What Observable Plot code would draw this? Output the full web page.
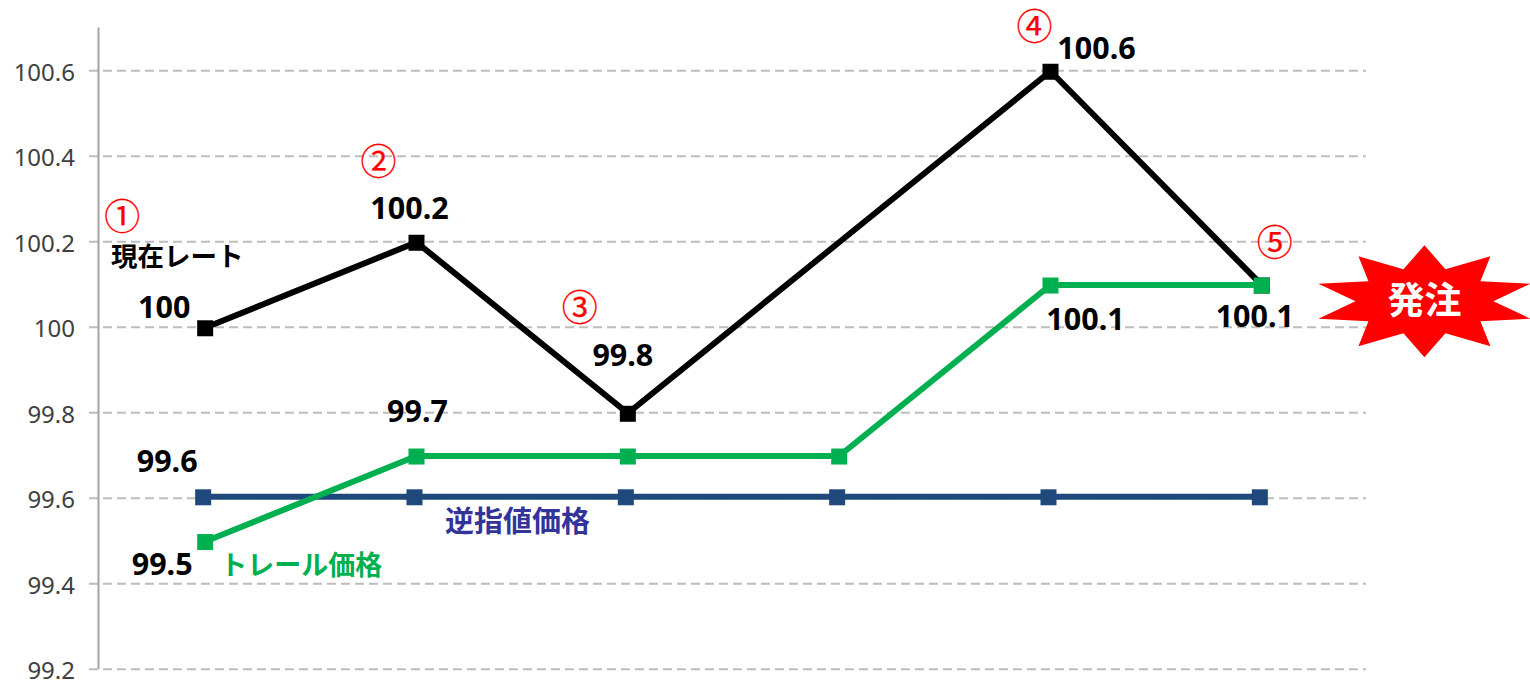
<!DOCTYPE html>
<html><head><meta charset="utf-8">
<script src="https://cdn.jsdelivr.net/npm/d3@7"></script>
<script src="https://cdn.jsdelivr.net/npm/@observablehq/plot@0.6"></script>
<style>html,body{margin:0;padding:0;background:#fff}svg{display:block}</style>
</head><body><div id="chart"></div>
<script>
const steps = [0.5, 1.5, 2.5, 3.5, 4.5, 5.5];
const current = [100, 100.2, 99.8, 100.2, 100.6, 100.1];
const trail = [99.5, 99.7, 99.7, 99.7, 100.1, 100.1];
const stop = [99.6, 99.6, 99.6, 99.6, 99.6, 99.6];
const yTicks = [99.2, 99.4, 99.6, 99.8, 100, 100.2, 100.4, 100.6];

const LATIN = "'Noto Sans', sans-serif";
const CJK = "'Noto Sans CJK JP', sans-serif";

const rows = a => a.map((v, i) => ({x: steps[i], y: v, i}));

function label(text, step, value, dx, dy, opts = {}) {
  return Plot.text([text], {
    x: () => step, y: () => value, text: d => d, dx, dy,
    fontFamily: LATIN, fontSize: 30.5, fontWeight: 700, fill: "#000",
    lineAnchor: "middle", textAnchor: "middle", ...opts
  });
}
const cjk = {fontFamily: CJK};
const circled = {fontFamily: CJK, fontSize: 36, fontWeight: 400, fill: "#ff0000", stroke: "#ff0000", strokeWidth: 0.25};

const STAR = [[0,-56],[21,-32],[66,-45],[56,-20],[106,-17.5],[69,0],[106,17.5],[56,20],[66,45],[21,32],
              [0,56],[-21,32],[-66,45],[-56,20],[-106,17.5],[-69,0],[-106,-17.5],[-56,-20],[-66,-45],[-21,-32]];
const starSymbol = {draw(ctx) {
  STAR.forEach(([a, b], k) => k ? ctx.lineTo(a, b) : ctx.moveTo(a, b));
  ctx.closePath();
}};

const plot = Plot.plot({
  width: 1530, height: 683,
  marginLeft: 98, marginRight: 164, marginTop: 27.5, marginBottom: 14,
  style: {fontFamily: LATIN, background: "#fff", overflow: "visible"},
  x: {domain: [0, 6], axis: null},
  y: {domain: [99.2, 100.7], range: [668.8, 27.5]},
  marks: [
    Plot.ruleY(yTicks, {stroke: "#bdbdbd", strokeWidth: 2, strokeDasharray: "9 5", insetLeft: -9}),
    Plot.ruleX([0], {stroke: "#a3a3a3", strokeWidth: 2}),
    Plot.axisY(yTicks, {anchor: "left", tickSize: 0, tickPadding: 23.5, label: null, tickFormat: d => String(d),
                        fontSize: 24, fill: "#404040", dy: 2.5}),
    Plot.line(rows(stop), {x: "x", y: "y", stroke: "#1F497D", strokeWidth: 6, dx: -1, dy: -1.5}),
    Plot.dot(rows(stop), {x: "x", y: "y", symbol: "square", r: 9.03, fill: "#1F497D", stroke: null, dx: -1, dy: -1}),
    Plot.line(rows(current), {x: "x", y: "y", stroke: "#000", strokeWidth: 6, dx: 1, dy: 0.5}),
    Plot.dot(rows(current).filter(d => d.i !== 3), {x: "x", y: "y", symbol: "square", r: 9.03, fill: "#000", stroke: null, dx: 1, dy: 1}),
    Plot.line(rows(trail), {x: "x", y: "y", stroke: "#00B050", strokeWidth: 6, dx: 1, dy: 0.5}),
    Plot.dot(rows(trail), {x: "x", y: "y", symbol: "square", r: 9.03, fill: "#00B050", stroke: null, dx: 1, dy: 1}),

    label("100", 0.5, 100, -40, -19),
    label("100.2", 1.5, 100.2, -6, -33),
    label("99.8", 2.5, 99.8, -4, -57),
    label("100.6", 4.5, 100.6, 47, -22),
    label("100.1", 4.5, 100.1, 36, 36),
    label("100.1", 5.5, 100.1, -6, 33),
    label("99.7", 1.5, 99.7, 2, -43),
    label("99.6", 0.5, 99.6, -37, -36),
    label("99.5", 0.5, 99.5, -42, 24),

    label("①", 0.5, 100, -82, -109, circled),
    label("②", 1.5, 100.2, -37, -78, circled),
    label("③", 2.5, 99.8, -47, -103, circled),
    label("④", 4.5, 100.6, -15, -42, circled),
    label("⑤", 5.5, 100.1, 14, -40, circled),

    label("現在レート", 0.5, 100, -27, -70, {...cjk, fontSize: 26.5}),
    label("トレール価格", 0.5, 99.5, 97, 25, {...cjk, fontSize: 27, fill: "#00B050"}),
    label("逆指値価格", 1.5, 99.6, 102, 24, {...cjk, fontSize: 29, fill: "#333399"}),

    Plot.dot(["発注"], {x: () => 5.5, y: () => 100.1, dx: 163.6, dy: 16.7, symbol: starSymbol, r: 1, fill: "#ff0000", stroke: null}),
    label("発注", 5.5, 100.1, 163.6, 18, {...cjk, fontSize: 37, fill: "#fff"})
  ]
});
document.getElementById("chart").append(plot);
</script></body></html>
